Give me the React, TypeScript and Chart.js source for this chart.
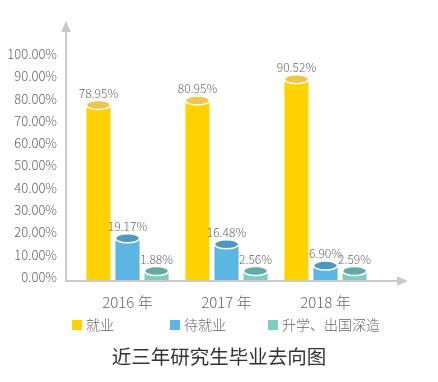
import React, { useEffect, useRef } from 'react';
import { Chart, registerables } from 'chart.js';

Chart.register(...registerables);

const categories = ['2016 年', '2017 年', '2018 年'];
const seriesNames = ['就业', '待就业', '升学、出国深造'];
const employed = [78.95, 80.95, 90.52];
const waiting = [19.17, 16.48, 6.9];
const further = [1.88, 2.56, 2.59];
const yMin = 0;
const yMax = 100;
const yStep = 10;
const chartTitle = '近三年研究生毕业去向图';

const FONT = "'Noto Sans CJK SC', 'Noto Sans', sans-serif";
const barColors = ['#FFD200', '#5CB6E2', '#7FCCC2'];
const capColors = ['#EFC64A', '#4C98C2', '#62ABA4'];
const axisColor = '#C9C9C9';
const textColor = '#666666';

const cylinderPlugin = {
  id: 'cylinder',
  afterDatasetsDraw(chart: any) {
    const ctx = chart.ctx;
    ctx.save();
    chart.data.datasets.forEach((ds: any, di: number) => {
      const meta = chart.getDatasetMeta(di);
      meta.data.forEach((bar: any, i: number) => {
        const { x, y, width } = bar.getProps(['x', 'y', 'width'], true);
        ctx.beginPath();
        ctx.ellipse(x, y, width / 2, 4.5, 0, 0, Math.PI * 2);
        ctx.fillStyle = capColors[di];
        ctx.fill();
        ctx.lineWidth = 1.5;
        ctx.strokeStyle = '#FFFFFF';
        ctx.stroke();
        const v = ds.data[i] as number;
        ctx.fillStyle = textColor;
        ctx.font = `300 12px ${FONT}`;
        ctx.textAlign = 'center';
        ctx.textBaseline = 'middle';
        ctx.fillText(v.toFixed(2) + '%', x, y - 12);
      });
    });
    ctx.restore();
  },
};

const axesPlugin = {
  id: 'arrowAxes',
  afterDatasetsDraw(chart: any) {
    const ctx = chart.ctx;
    const { left, bottom } = chart.chartArea;
    const ax = left - 12;
    const xEnd = 408;
    const yTop = 21;
    ctx.save();
    ctx.strokeStyle = axisColor;
    ctx.fillStyle = axisColor;
    ctx.lineWidth = 2;
    ctx.beginPath();
    ctx.moveTo(ax, yTop + 8);
    ctx.lineTo(ax, bottom);
    ctx.lineTo(xEnd - 8, bottom);
    ctx.stroke();
    ctx.beginPath();
    ctx.moveTo(ax, yTop);
    ctx.lineTo(ax - 4.8, yTop + 11);
    ctx.lineTo(ax + 4.8, yTop + 11);
    ctx.closePath();
    ctx.fill();
    ctx.beginPath();
    ctx.moveTo(xEnd, bottom);
    ctx.lineTo(xEnd - 11, bottom - 4.8);
    ctx.lineTo(xEnd - 11, bottom + 4.8);
    ctx.closePath();
    ctx.fill();
    ctx.restore();
  },
};

const legendPlugin = {
  id: 'customLegend',
  afterDraw(chart: any) {
    const ctx = chart.ctx;
    const starts = [72, 170, 268];
    const cy = 325;
    ctx.save();
    ctx.font = `300 14px ${FONT}`;
    ctx.textAlign = 'left';
    ctx.textBaseline = 'middle';
    chart.data.datasets.forEach((ds: any, i: number) => {
      const x0 = starts[i];
      ctx.fillStyle = ds.backgroundColor;
      ctx.fillRect(x0, cy - 5, 10, 10);
      ctx.fillStyle = textColor;
      ctx.fillText(ds.label, x0 + 14, cy);
    });
    ctx.restore();
  },
};

export default function App() {
  const ref = useRef<HTMLCanvasElement | null>(null);
  useEffect(() => {
    if (!ref.current) return;
    const chart = new Chart(ref.current, {
      type: 'bar',
      data: {
        labels: categories,
        datasets: [employed, waiting, further].map((d, i) => ({
          label: seriesNames[i],
          data: d,
          backgroundColor: barColors[i],
          borderWidth: 0,
          minBarLength: 10,
          categoryPercentage: 0.88,
          barPercentage: 0.83,
        })),
      },
      options: {
        animation: false,
        responsive: true,
        maintainAspectRatio: false,
        layout: { padding: { top: 58, right: 0, left: 0, bottom: 0 } },
        plugins: {
          legend: { display: false },
          tooltip: { enabled: false },
          title: {
            display: true,
            text: chartTitle,
            position: 'bottom',
            color: '#333333',
            font: { family: FONT, size: 19.5, weight: 'normal', lineHeight: 1.2 },
            padding: { top: 34.3, bottom: 13.3 },
          },
        },
        scales: {
          x: {
            grid: { display: false },
            border: { display: false },
            ticks: { color: textColor, font: { family: FONT, size: 15, weight: '300' }, padding: 4 },
            afterFit: (s: any) => { s.height = 30; },
          },
          y: {
            min: yMin,
            max: yMax,
            grid: { display: false },
            border: { display: false },
            ticks: {
              stepSize: yStep,
              color: textColor,
              padding: 13,
              labelOffset: -4,
              font: { family: FONT, size: 13, weight: '300' },
              callback: (v: any) => Number(v).toFixed(2) + '%',
            },
            afterFit: (s: any) => { s.width = 78; },
          },
          yRight: {
            position: 'right',
            display: true,
            grid: { display: false },
            border: { display: false },
            ticks: { display: false },
            afterFit: (s: any) => { s.width = 63; },
          },
        },
      },
      plugins: [cylinderPlugin, axesPlugin, legendPlugin],
    });
    return () => chart.destroy();
  }, []);
  return (
    <div style={{ position: 'fixed', left: 0, top: 0, width: 438, height: 382, background: '#FFFFFF' }}>
      <canvas ref={ref} />
    </div>
  );
}
